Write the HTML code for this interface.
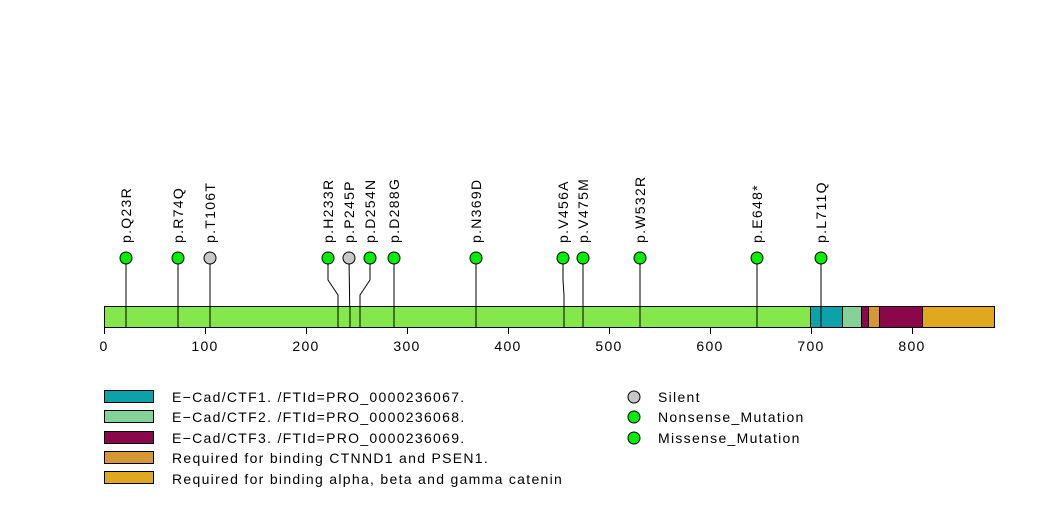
<!DOCTYPE html>
<html><head><meta charset="utf-8"><style>
html,body{margin:0;padding:0;background:#fff;}
svg{display:block;}
text{font-family:"Liberation Sans",sans-serif;fill:#000;letter-spacing:1.3px;}
</style></head><body>
<svg width="1047" height="524" viewBox="0 0 1047 524" xmlns="http://www.w3.org/2000/svg">
<g stroke="#000" stroke-width="1" fill="none">
<polyline points="126,258 126,327"/>
<polyline points="178,258 178,327"/>
<polyline points="210,258 210,327"/>
<polyline points="328,258 328,280 338,295 338,327"/>
<polyline points="349,258 350,327"/>
<polyline points="370,258 370,280 360,295 360,327"/>
<polyline points="394,258 394,327"/>
<polyline points="476,258 476,327"/>
<polyline points="563,258 563,280 564,295 564,327"/>
<polyline points="583,258 583,327"/>
<polyline points="640,258 640,327"/>
<polyline points="757,258 757,327"/>
<polyline points="821,258 821,327"/>
</g>
<g stroke="#000" stroke-width="1">
<rect x="104.5" y="306.5" width="706" height="21" fill="#84e84c"/>
<rect x="810.5" y="306.5" width="32" height="21" fill="#0ba3a9"/>
<rect x="842.5" y="306.5" width="19" height="21" fill="#83d399"/>
<rect x="861.5" y="306.5" width="7" height="21" fill="#8a074b"/>
<rect x="868.5" y="306.5" width="11" height="21" fill="#d59634"/>
<rect x="879.5" y="306.5" width="43" height="21" fill="#8a074b"/>
<rect x="922.5" y="306.5" width="72" height="21" fill="#e0a81e"/>
</g>
<g stroke="#000" stroke-width="1">
<line x1="126" y1="306" x2="126" y2="327"/><line x1="178" y1="306" x2="178" y2="327"/>
<line x1="210" y1="306" x2="210" y2="327"/><line x1="338" y1="306" x2="338" y2="327"/>
<line x1="350" y1="306" x2="350" y2="327"/><line x1="360" y1="306" x2="360" y2="327"/>
<line x1="394" y1="306" x2="394" y2="327"/><line x1="476" y1="306" x2="476" y2="327"/>
<line x1="564" y1="306" x2="564" y2="327"/><line x1="583" y1="306" x2="583" y2="327"/>
<line x1="640" y1="306" x2="640" y2="327"/><line x1="757" y1="306" x2="757" y2="327"/>
<line x1="821" y1="306" x2="821" y2="327"/>
</g>
<g stroke="#000" stroke-width="1">
<circle cx="126" cy="258" r="6" fill="#00ee00"/>
<circle cx="178" cy="258" r="6" fill="#00ee00"/>
<circle cx="210" cy="258" r="6" fill="#c8c8c8"/>
<circle cx="328" cy="258" r="6" fill="#00ee00"/>
<circle cx="349" cy="258" r="6" fill="#c8c8c8"/>
<circle cx="370" cy="258" r="6" fill="#00ee00"/>
<circle cx="394" cy="258" r="6" fill="#00ee00"/>
<circle cx="476" cy="258" r="6" fill="#00ee00"/>
<circle cx="563" cy="258" r="6" fill="#00ee00"/>
<circle cx="583" cy="258" r="6" fill="#00ee00"/>
<circle cx="640" cy="258" r="6" fill="#00ee00"/>
<circle cx="757" cy="258" r="6" fill="#00ee00"/>
<circle cx="821" cy="258" r="6" fill="#00ee00"/>
</g>
<g font-size="14">
<text transform="translate(131,243) rotate(-90)">p.Q23R</text>
<text transform="translate(183,243) rotate(-90)">p.R74Q</text>
<text transform="translate(215,243) rotate(-90)">p.T106T</text>
<text transform="translate(333,243) rotate(-90)">p.H233R</text>
<text transform="translate(354,243) rotate(-90)">p.P245P</text>
<text transform="translate(375,243) rotate(-90)">p.D254N</text>
<text transform="translate(399,243) rotate(-90)">p.D288G</text>
<text transform="translate(481,243) rotate(-90)">p.N369D</text>
<text transform="translate(568,243) rotate(-90)">p.V456A</text>
<text transform="translate(588,243) rotate(-90)">p.V475M</text>
<text transform="translate(645,243) rotate(-90)">p.W532R</text>
<text transform="translate(762,243) rotate(-90)">p.E648*</text>
<text transform="translate(826,243) rotate(-90)">p.L711Q</text>
</g>
<g stroke="#000" stroke-width="1">
<line x1="104.5" y1="327" x2="104.5" y2="334"/><line x1="205.5" y1="327" x2="205.5" y2="334"/>
<line x1="306.5" y1="327" x2="306.5" y2="334"/><line x1="407.5" y1="327" x2="407.5" y2="334"/>
<line x1="508.5" y1="327" x2="508.5" y2="334"/><line x1="609.5" y1="327" x2="609.5" y2="334"/>
<line x1="710.5" y1="327" x2="710.5" y2="334"/><line x1="811.5" y1="327" x2="811.5" y2="334"/>
<line x1="912.5" y1="327" x2="912.5" y2="334"/>
</g>
<g font-size="14" text-anchor="middle">
<text x="104" y="351">0</text><text x="205" y="351">100</text><text x="306" y="351">200</text>
<text x="407" y="351">300</text><text x="508" y="351">400</text><text x="609" y="351">500</text>
<text x="710" y="351">600</text><text x="811" y="351">700</text><text x="912" y="351">800</text>
</g>
<g stroke="#000" stroke-width="1">
<rect x="104.5" y="390.5" width="49" height="12" fill="#0ba3a9"/>
<rect x="104.5" y="410.5" width="49" height="12" fill="#83d399"/>
<rect x="104.5" y="431.5" width="49" height="12" fill="#8a074b"/>
<rect x="104.5" y="451.5" width="49" height="12" fill="#d59634"/>
<rect x="104.5" y="471.5" width="49" height="12" fill="#e0a81e"/>
<circle cx="634" cy="397" r="6" fill="#c8c8c8"/>
<circle cx="634" cy="417" r="6" fill="#00ee00"/>
<circle cx="634" cy="438" r="6" fill="#00ee00"/>
</g>
<g font-size="14">
<text x="172" y="402">E−Cad/CTF1. /FTId=PRO_0000236067.</text>
<text x="172" y="422">E−Cad/CTF2. /FTId=PRO_0000236068.</text>
<text x="172" y="443">E−Cad/CTF3. /FTId=PRO_0000236069.</text>
<text x="172" y="463">Required for binding CTNND1 and PSEN1.</text>
<text x="172" y="484">Required for binding alpha, beta and gamma catenin</text>
<text x="658" y="402">Silent</text>
<text x="658" y="422">Nonsense_Mutation</text>
<text x="658" y="443">Missense_Mutation</text>
</g>
</svg>
</body></html>
